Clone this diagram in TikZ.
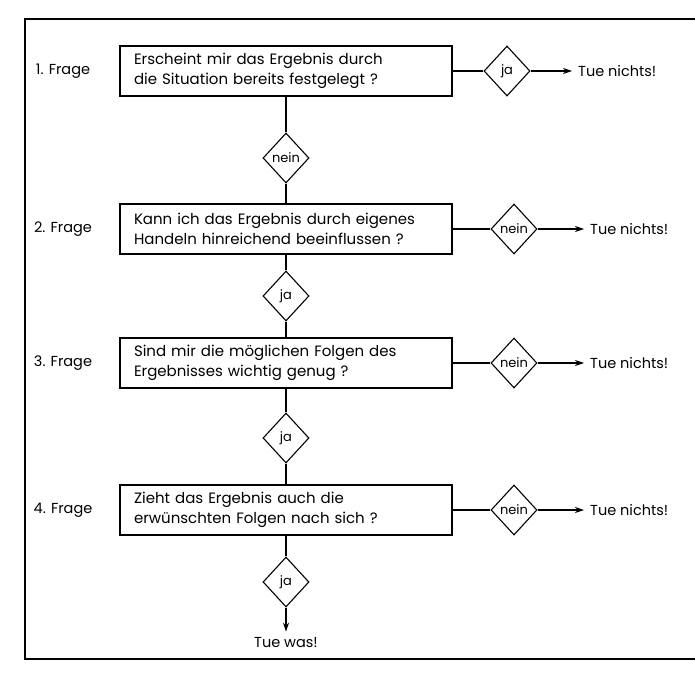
\documentclass[tikz,border=0pt]{standalone}
\usepackage{fontspec}
\setmainfont{Poppins}
\usetikzlibrary{shapes.geometric, positioning, arrows.meta}

\begin{document}
\begin{tikzpicture}[x=1pt, y=-1pt,
      frage/.style={rectangle, draw, line width=1.1pt, minimum width=332pt,
                    minimum height=50pt, text width=304pt, align=left,
                    inner sep=0pt, font=\fontsize{15}{19.5}\selectfont},
      ent/.style={diamond, draw, line width=1.1pt, minimum width=46pt,
                  minimum height=50pt, inner sep=0pt,
                  font=\fontsize{13}{15}\selectfont},
      lbl/.style={font=\fontsize{14.5}{17}\selectfont, inner sep=2pt},
      verb/.style={line width=1.1pt},
      arr/.style={-{Stealth[length=9pt, width=6pt]}, line width=1.1pt,
                  shorten >=4pt}
    ]
    \useasboundingbox (0,0) rectangle (695,676);

    % Rahmen (rechts offen)
    \draw[line width=1.2pt] (700,19) -- (25,19) -- (25,659) -- (700,659);

    % Fragen
    \node[frage] (f1) at (286,71)  {Erscheint mir das Ergebnis durch\\die Situation bereits festgelegt ?};
    \node[frage] (f2) at (286,229) {Kann ich das Ergebnis durch eigenes\\Handeln hinreichend beeinflussen ?};
    \node[frage] (f3) at (286,363) {Sind mir die m\"oglichen Folgen des\\Ergebnisses wichtig genug ?};
    \node[frage] (f4) at (286,510) {Zieht das Ergebnis auch die\\erw\"unschten Folgen nach sich ?};
    \foreach \i/\y in {1/71, 2/229, 3/363, 4/510} {
      \node[lbl] (nr\i) at (63,\y) {\i. Frage};
    }

    % Entscheidungen nach rechts
    \node[ent] (r1) at (507,71) {ja};
    \node[lbl, anchor=west] (t1) at (576,71) {Tue nichts!};
    \draw[verb] (f1) -- (r1);
    \draw[arr] (r1) -- (t1);
    \foreach \i/\y in {2/229, 3/363, 4/510} {
      \node[ent] (r\i) at (514,\y) {nein};
      \node[lbl, anchor=west] (t\i) at (588,\y) {Tue nichts!};
      \draw[verb] (f\i) -- (r\i);
      \draw[arr] (r\i) -- (t\i);
    }

    % Entscheidungen nach unten
    \node[ent] (d1) at (286,158) {nein};
    \foreach \i/\y in {2/296, 3/438, 4/582} {
      \node[ent] (d\i) at (286,\y) {ja};
    }
    \foreach \i/\j in {1/2, 2/3, 3/4} {
      \draw[verb] (f\i) -- (d\i) -- (f\j);
    }
    \draw[verb] (f4) -- (d4);
    \node[lbl] (was) at (286,643) {Tue was!};
    \draw[arr] (d4) -- (was);
  \end{tikzpicture}
\end{document}
